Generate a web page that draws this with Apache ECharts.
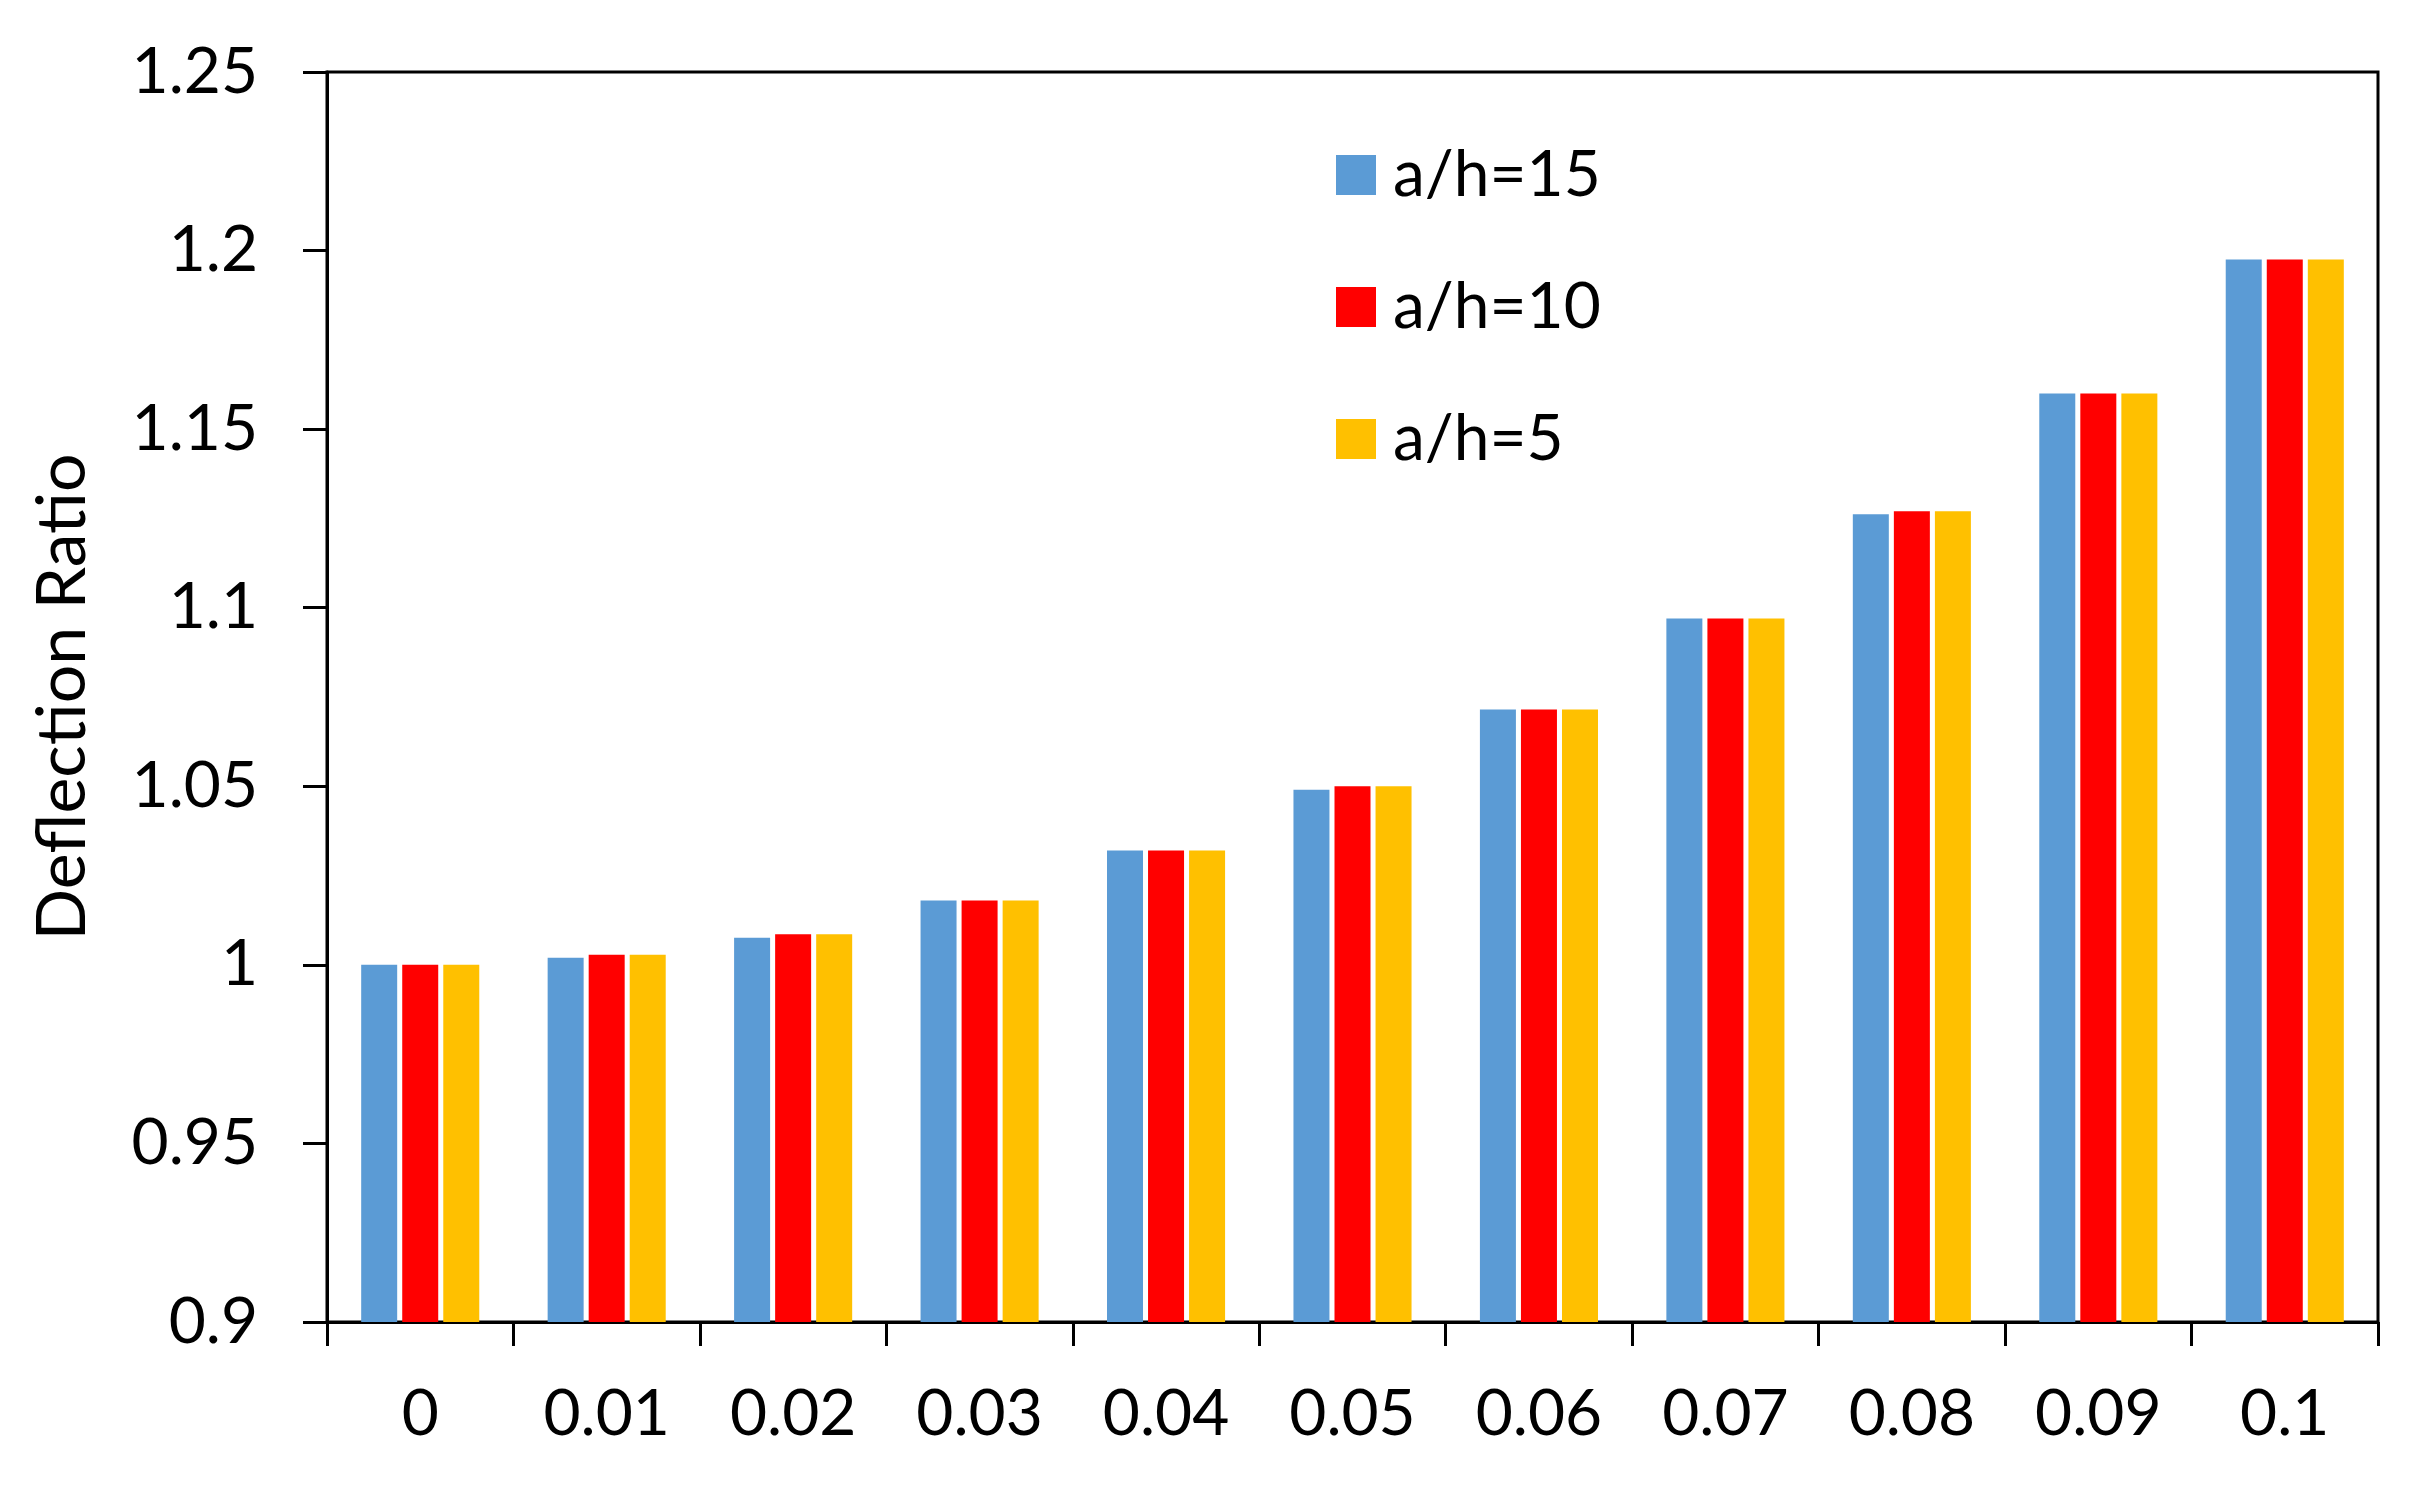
<!DOCTYPE html>
<html>
<head>
<meta charset="utf-8">
<script src="https://cdn.jsdelivr.net/npm/echarts@6/dist/echarts.min.js"></script>
<style>
html,body{margin:0;padding:0;background:#fff;}
#chart{width:2418px;height:1488px;}
</style>
</head>
<body>
<div id="chart"></div>
<script>
const categories = ['0','0.01','0.02','0.03','0.04','0.05','0.06','0.07','0.08','0.09','0.1'];
const seriesNames = ['a/h=15','a/h=10','a/h=5'];
const ah15 = [1.000, 1.002, 1.0076, 1.018, 1.032, 1.049, 1.0715, 1.097, 1.1262, 1.160, 1.1975];
const ah10 = [1.000, 1.0028, 1.0086, 1.018, 1.032, 1.050, 1.0715, 1.097, 1.127, 1.160, 1.1975];
const ah5  = [1.000, 1.0028, 1.0086, 1.018, 1.032, 1.050, 1.0715, 1.097, 1.127, 1.160, 1.1975];
const yTicks = ['0.9','0.95','1','1.05','1.1','1.15','1.2','1.25'];
const colors = ['#5B9BD5','#FF0000','#FFC000'];

const FONT = 'Lato';
const chart = echarts.init(document.getElementById('chart'), null, {renderer:'canvas'});
const values = [ah15, ah10, ah5];
chart.setOption({
  animation:false,
  backgroundColor:'#fff',
  textStyle:{fontFamily:FONT},
  grid:{left:327, right:40, top:72, bottom:166, containLabel:false, outerBoundsMode:'none',
        show:true, borderColor:'#000', borderWidth:3, backgroundColor:'transparent'},
  legend:{
    orient:'vertical', left:1331, top:138,
    itemWidth:40, itemHeight:40, itemGap:68,
    icon:'rect',
    textStyle:{fontFamily:FONT, fontSize:64, color:'#000', lineHeight:62, padding:[0,0,0,12]},
    data:seriesNames
  },
  xAxis:{
    type:'category', data:categories,
    axisLine:{lineStyle:{color:'#000', width:3}},
    axisTick:{show:true, length:24, lineStyle:{color:'#000', width:3}},
    axisLabel:{fontFamily:FONT, fontSize:64, color:'#000', margin:60, interval:0}
  },
  yAxis:{
    type:'value', min:0.9, max:1.25, interval:0.05,
    name:'Deflection Ratio', nameLocation:'middle', nameGap:230,
    nameTextStyle:{fontFamily:FONT, fontSize:68, color:'#000'},
    splitLine:{show:false},
    axisLine:{show:true, lineStyle:{color:'#000', width:3}},
    axisTick:{show:true, length:24, lineStyle:{color:'#000', width:3}},
    axisLabel:{fontFamily:FONT, fontSize:64, color:'#000', margin:69,
      formatter:(v)=>{const i=Math.round((v-0.9)/0.05); return yTicks[i]!==undefined?yTicks[i]:String(v);}}
  },
  series: seriesNames.map((n,i)=>({
    name:n, type:'bar', data:values[i],
    barWidth:36, barGap:'14%',
    itemStyle:{color:colors[i]}
  }))
});
</script>
</body>
</html>
